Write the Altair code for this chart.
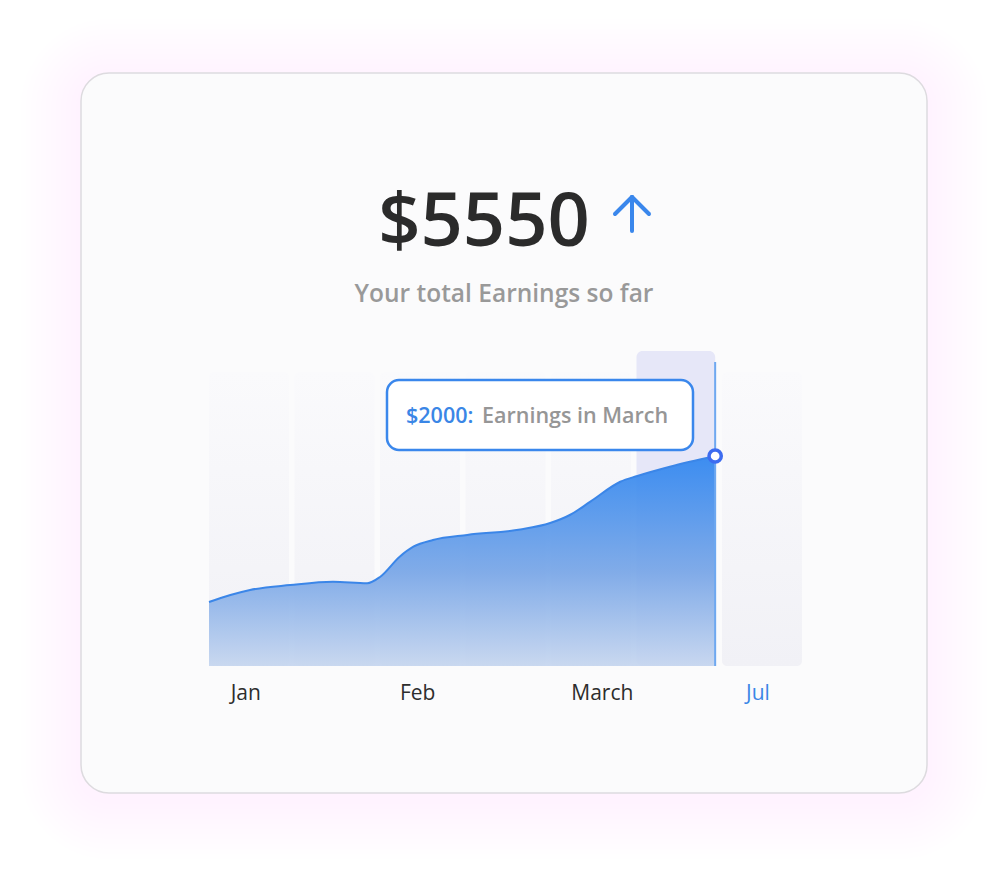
import altair as alt
import pandas as pd

# ---- data ----
slots = [0, 1, 2, 3, 4, 5, 6]
highlight_slot = 5
curve_x = [0.0, 0.25, 0.48, 0.95, 1.45, 1.85, 2.0, 2.23, 2.39, 2.62, 3.02, 3.64,
           3.99, 4.22, 4.46, 4.81, 5.01, 5.39, 5.92]
curve_y = [610, 676, 724, 771, 803, 788, 848, 1041, 1136, 1200, 1248, 1300,
           1362, 1438, 1565, 1755, 1810, 1898, 2000]
tick_labels = ["Jan", "Feb", "March", "Jul"]
tick_pos = [0.43, 2.44, 4.6, 6.42]
total = "$5550"
subtitle = "Your total Earnings so far"
tip_value = "$2000:"
tip_text = "Earnings in March"

FONT = "Open Sans"
BLUE = "#3a87ec"

xs = alt.Scale(domain=[0, 7], range=[209, 807.5], nice=False, zero=False)
ys = alt.Scale(domain=[0, 3000], range=[666, 351], nice=False, zero=True)

one = pd.DataFrame({"a": [0]})

# card shadow + card
layers = []
for k in range(1, 13):
    e = 5 * k
    layers.append(
        alt.Chart(one).mark_rect(cornerRadius=28 + e, fill="#ecdef2", opacity=0.025)
        .encode(x=alt.value(81 - e), x2=alt.value(927 + e),
                y=alt.value(73 - e + 6), y2=alt.value(793 + e + 6))
    )
layers.append(
    alt.Chart(one).mark_rect(cornerRadius=28, fill="#fbfbfc", stroke="#dddbdf", strokeWidth=1.5)
    .encode(x=alt.value(81), x2=alt.value(927), y=alt.value(73), y2=alt.value(793))
)

# headline
layers.append(
    alt.Chart(one).mark_text(text=total, font=FONT, fontSize=74, fontWeight=600,
                             color="#2b2b2b", align="center", baseline="alphabetic")
    .encode(x=alt.value(484), y=alt.value(246))
)
# arrow
arrow = pd.DataFrame({"x": [632, 615, 632], "x2": [632, 632, 649],
                      "y": [231, 214, 197], "y2": [197, 197, 214]})
layers.append(
    alt.Chart(arrow).mark_rule(color=BLUE, strokeWidth=4, strokeCap="round")
    .encode(x=alt.X("x:Q", scale=None), x2="x2:Q", y=alt.Y("y:Q", scale=None), y2="y2:Q")
)
layers.append(
    alt.Chart(one).mark_text(text=subtitle, font=FONT, fontSize=24.5, fontWeight=600,
                             color="#999999", align="center", baseline="alphabetic")
    .encode(x=alt.value(504), y=alt.value(302))
)

# columns
cols = pd.DataFrame({"s": slots})
cols["e"] = cols["s"] + 80 / 85.5
cols["top"] = 2800
cols["bot"] = 0
reg = cols[cols["s"] != highlight_slot]
hi = pd.DataFrame({"s": [highlight_slot], "e": [curve_x[-1]], "top": [3000], "bot": [0]})

layers.append(
    alt.Chart(reg).mark_rect(
        cornerRadius=5,
        fill=alt.Gradient(gradient="linear", x1=0, y1=0, x2=0, y2=1,
                          stops=[alt.GradientStop(color="#fafafc", offset=0),
                                 alt.GradientStop(color="#f1f1f6", offset=1)]))
    .encode(x=alt.X("s:Q", scale=xs, axis=None), x2="e:Q",
            y=alt.Y("top:Q", scale=ys, axis=None), y2="bot:Q")
)
layers.append(
    alt.Chart(hi).mark_rect(cornerRadius=6, fill="#e6e7f8")
    .encode(x=alt.X("s:Q", scale=xs, axis=None), x2="e:Q",
            y=alt.Y("top:Q", scale=ys, axis=None), y2="bot:Q")
)

# area
curve = pd.DataFrame({"x": curve_x, "y": curve_y})
layers.append(
    alt.Chart(curve).mark_area(
        interpolate="monotone", opacity=0.93,
        fill=alt.Gradient(gradient="linear", x1=0, y1=0, x2=0, y2=1,
                          stops=[alt.GradientStop(color="#2f86f0", offset=0),
                                 alt.GradientStop(color="#78a6e7", offset=0.55),
                                 alt.GradientStop(color="#c6d6ef", offset=1)]))
    .encode(x=alt.X("x:Q", scale=xs, axis=None), y=alt.Y("y:Q", scale=ys, axis=None))
)
layers.append(
    alt.Chart(curve).mark_line(interpolate="monotone", color="#3b86e8", strokeWidth=2)
    .encode(x=alt.X("x:Q", scale=xs, axis=None), y=alt.Y("y:Q", scale=ys, axis=None))
)
# marker line + point
endp = pd.DataFrame({"x": [curve_x[-1]], "y": [curve_y[-1]], "top": [2895], "bot": [0]})
layers.append(
    alt.Chart(endp).mark_rule(color="#6ea8f0", strokeWidth=2)
    .encode(x=alt.X("x:Q", scale=xs, axis=None), y=alt.Y("top:Q", scale=ys, axis=None), y2="bot:Q")
)
layers.append(
    alt.Chart(endp).mark_point(shape="circle", size=150, filled=True, fill="white",
                               stroke="#3d6cf0", strokeWidth=3.5, opacity=1)
    .encode(x=alt.X("x:Q", scale=xs, axis=None), y=alt.Y("y:Q", scale=ys, axis=None))
)

# tooltip box
layers.append(
    alt.Chart(one).mark_rect(cornerRadius=12, fill="white", stroke=BLUE, strokeWidth=2.5)
    .encode(x=alt.value(387), x2=alt.value(693), y=alt.value(380), y2=alt.value(450))
)
layers.append(
    alt.Chart(one).mark_text(text=tip_value, font=FONT, fontSize=21.5, fontWeight=600,
                             color="#3a86e6", align="left", baseline="alphabetic")
    .encode(x=alt.value(406), y=alt.value(423))
)
layers.append(
    alt.Chart(one).mark_text(text=tip_text, font=FONT, fontSize=21.5, fontWeight=600,
                             color="#969696", align="left", baseline="alphabetic")
    .encode(x=alt.value(482), y=alt.value(423))
)

# tick labels
labels = pd.DataFrame({"label": tick_labels, "x": tick_pos,
                       "c": ["#2d2d2d", "#2d2d2d", "#2d2d2d", "#3a86e6"]})
layers.append(
    alt.Chart(labels).mark_text(font=FONT, fontSize=21, align="center", baseline="alphabetic")
    .encode(x=alt.X("x:Q", scale=xs, axis=None), y=alt.value(700),
            text="label:N", color=alt.Color("c:N", scale=None))
)

chart = alt.layer(*layers).properties(
    width=1006, height=880, autosize=alt.AutoSizeParams(type="none"), padding=0,
    background="white"
).configure_view(strokeWidth=0)

chart.save("out.html", embed_options={"renderer": "svg", "actions": False})
